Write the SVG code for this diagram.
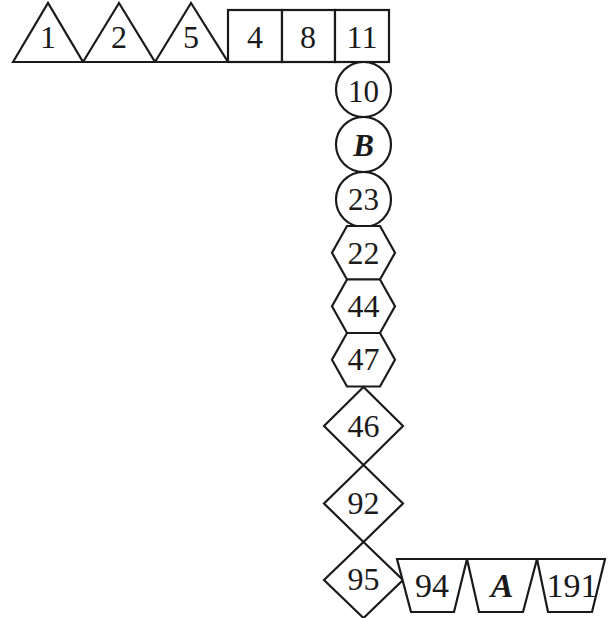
<svg xmlns="http://www.w3.org/2000/svg" width="608" height="618" viewBox="0 0 608 618">
<style>
.s{fill:#fff;stroke:#1a1a1a;stroke-width:2.2;stroke-linejoin:miter}
text{font-family:"Liberation Serif","Times New Roman",serif;fill:#1a1a1a;text-anchor:middle}
.t{font-size:32px}
.c{font-size:31px}
.m{font-size:32px}
.z{font-size:34px}
.b{font-weight:bold;font-style:italic}
</style>
<rect width="608" height="618" fill="#fff"/>
<g id="connectors"></g>
<g id="n1"><polygon class="s" points="13,62 48,3 83,62"/><text class="t" x="48" y="48">1</text></g>
<g id="n2"><polygon class="s" points="83,62 119,3 155,62"/><text class="t" x="119" y="48">2</text></g>
<g id="n5"><polygon class="s" points="155,62 191,3 228,62"/><text class="t" x="191" y="48">5</text></g>
<g id="n4"><rect class="s" x="228" y="10" width="54" height="52"/><text class="t" x="255" y="48">4</text></g>
<g id="n8"><rect class="s" x="282" y="10" width="53" height="52"/><text class="t" x="308" y="48">8</text></g>
<g id="n11"><rect class="s" x="335" y="10" width="54" height="52"/><text class="t" x="362" y="48">11</text></g>
<g id="n10"><circle class="s" cx="363.5" cy="89.5" r="27.5"/><text class="c" x="363.5" y="101.5">10</text></g>
<g id="nB"><circle class="s" cx="363.5" cy="144.5" r="27.5"/><text class="c b" x="363.5" y="155.5">B</text></g>
<g id="n23"><circle class="s" cx="363.5" cy="199.5" r="27.5"/><text class="c" x="363.5" y="209.5">23</text></g>
<g id="n22"><polygon class="s" points="347,226 380,226 395,252.8 380,279.5 347,279.5 332,252.8"/><text class="m" x="363.5" y="264">22</text></g>
<g id="n44"><polygon class="s" points="347,279.5 380,279.5 395,306.3 380,333 347,333 332,306.3"/><text class="m" x="363.5" y="317">44</text></g>
<g id="n47"><polygon class="s" points="347,333 380,333 395,359.8 380,386.5 347,386.5 332,359.8"/><text class="m" x="363.5" y="370">47</text></g>
<g id="n46"><polygon class="s" points="363.5,387 403,426 363.5,465 324,426"/><text class="m" x="363.5" y="437">46</text></g>
<g id="n92"><polygon class="s" points="363.5,465 403,503.5 363.5,542 324,503.5"/><text class="m" x="363.5" y="514">92</text></g>
<g id="n95"><polygon class="s" points="363.5,542 403,580 363.5,618 324,580"/><text class="m" x="363.5" y="590">95</text></g>
<g id="n94"><polygon class="s" points="397,559 467,559 454,612 411,612"/><text class="z" x="432" y="597">94</text></g>
<g id="nA"><polygon class="s" points="467,559 537,559 523,612 479,612"/><text class="z b" x="502" y="597">A</text></g>
<g id="n191"><polygon class="s" points="537,559 605,559 592,612 548,612"/><text class="z" x="572" y="597">191</text></g>
</svg>
